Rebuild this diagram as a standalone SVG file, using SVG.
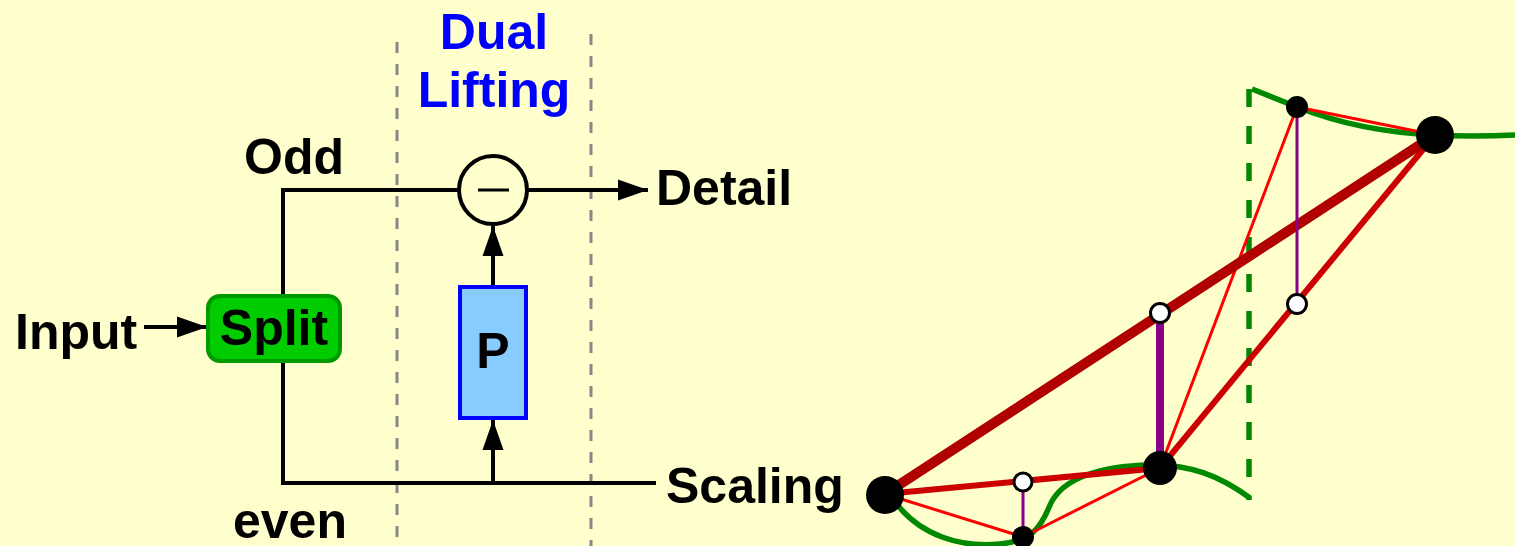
<svg xmlns="http://www.w3.org/2000/svg" width="1515" height="546" viewBox="0 0 1515 546">
  <defs>
    <marker id="arrow" markerUnits="userSpaceOnUse" markerWidth="30" markerHeight="22" refX="30" refY="11" orient="auto">
      <path d="M0,0.5 L30,11 L0,21.5 Z" fill="#000"/>
    </marker>
    <style>
      .lbl { font-family: "Liberation Sans", Arial, sans-serif; font-weight: bold; font-size: 50px; fill: #000; }
      .title { fill: #0000ff; text-anchor: middle; }
      .wire { fill: none; stroke: #000; stroke-width: 4; }
      .guide { fill: none; stroke: #888; stroke-width: 3; stroke-dasharray: 11 11; }
      .curve { fill: none; stroke: #008800; stroke-width: 5.5; }
      .coarse { stroke: #b00000; stroke-width: 10; stroke-linecap: round; }
      .pred { stroke: #cc0000; stroke-width: 6; }
      .fine { stroke: #ff0000; stroke-width: 3; }
      .diff { stroke: #880088; }
      .dot { fill: #000; }
      .hollow { fill: #fff; stroke: #000; stroke-width: 3; }
    </style>
  </defs>

  <rect width="1515" height="546" fill="#feffcc"/>

  <!-- lifting stage boundaries -->
  <g id="stage-bounds">
    <line class="guide" x1="397" y1="42" x2="397" y2="546"/>
    <line class="guide" x1="591" y1="34" x2="591" y2="546"/>
    <text class="lbl title" x="494" y="49">Dual</text>
    <text class="lbl title" x="494" y="107">Lifting</text>
  </g>

  <!-- signal flow -->
  <g id="connectors">
    <line class="wire" x1="144" y1="327" x2="207" y2="327" marker-end="url(#arrow)"/>
    <polyline class="wire" points="283,296 283,190 458,190"/>
    <polyline class="wire" points="283,362 283,483 656,483"/>
    <line class="wire" x1="528" y1="190" x2="648" y2="190" marker-end="url(#arrow)"/>
    <line class="wire" x1="493" y1="483" x2="493" y2="420" marker-end="url(#arrow)"/>
    <line class="wire" x1="493" y1="287" x2="493" y2="226" marker-end="url(#arrow)"/>
  </g>

  <g id="input"><text class="lbl" x="15" y="349">Input</text></g>

  <g id="split">
    <rect x="208" y="296" width="132" height="65" rx="12" fill="#00cc00" stroke="#009900" stroke-width="4"/>
    <text class="lbl" x="274" y="345" text-anchor="middle">Split</text>
  </g>

  <g id="odd"><text class="lbl" x="244" y="174">Odd</text></g>
  <g id="even"><text class="lbl" x="233" y="538">even</text></g>

  <g id="subtract">
    <circle cx="493" cy="190" r="34" fill="#feffcc" stroke="#000" stroke-width="4"/>
    <line x1="478" y1="190" x2="509" y2="190" stroke="#000" stroke-width="3"/>
  </g>

  <g id="predict">
    <rect x="460" y="287" width="66" height="131" fill="#88ccff" stroke="#0000ff" stroke-width="4"/>
    <text class="lbl" x="493" y="368" text-anchor="middle">P</text>
  </g>

  <g id="detail"><text class="lbl" x="656" y="205">Detail</text></g>
  <g id="scaling"><text class="lbl" x="666" y="503">Scaling</text></g>

  <!-- piecewise-linear prediction on the signal -->
  <g id="signal-plot">
    <path class="curve" d="M896,503 C920,535 960,548 1000,544 C1030,541 1040,530 1050,505 C1062,478 1100,466 1150,465 C1190,464 1220,476 1250,498"/>
    <path class="curve" d="M1252,89 L1297,107 C1340,124 1390,133 1435,135 C1470,137 1495,136 1515,135"/>
    <line class="curve" x1="1249" y1="89" x2="1249" y2="500" stroke-dasharray="18 19"/>

    <line class="fine" x1="885" y1="494" x2="1023" y2="537"/>
    <line class="fine" x1="1023" y1="537" x2="1160" y2="468"/>
    <line class="fine" x1="1160" y1="468" x2="1297" y2="107"/>
    <line class="fine" x1="1297" y1="107" x2="1435" y2="135"/>

    <line class="pred" x1="885" y1="494" x2="1160" y2="468" stroke-width="7"/>
    <line class="pred" x1="1160" y1="468" x2="1435" y2="135"/>
    <line class="coarse" x1="885" y1="494" x2="1435" y2="135"/>

    <line class="diff" x1="1160" y1="313" x2="1160" y2="468" stroke-width="8"/>
    <line class="diff" x1="1297" y1="107" x2="1297" y2="304" stroke-width="3"/>
    <line class="diff" x1="1023" y1="482" x2="1023" y2="537" stroke-width="3"/>

    <circle class="dot" cx="885" cy="495" r="19"/>
    <circle class="dot" cx="1435" cy="135" r="19"/>
    <circle class="dot" cx="1160" cy="468" r="17"/>
    <circle class="dot" cx="1297" cy="107" r="11"/>
    <circle class="dot" cx="1023" cy="537" r="11"/>

    <circle class="hollow" cx="1160" cy="313" r="9.5"/>
    <circle class="hollow" cx="1297" cy="304" r="9.5"/>
    <circle class="hollow" cx="1023" cy="482" r="9"/>
  </g>
</svg>
